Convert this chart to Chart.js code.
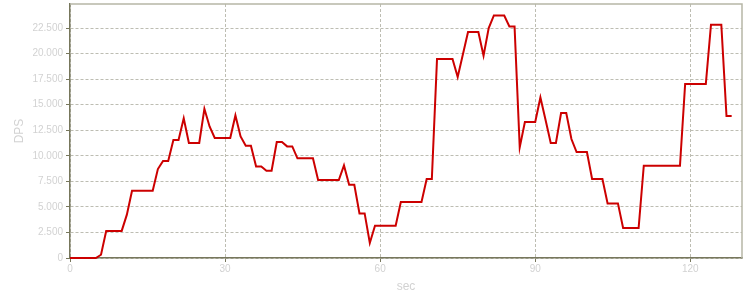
<!DOCTYPE html>
<html>
<head>
<meta charset="utf-8">
<script src="https://cdn.jsdelivr.net/npm/chart.js@4"></script>
<style>
  html, body { margin: 0; padding: 0; background: #ffffff; }
  #wrap { width: 750px; height: 300px; }
</style>
</head>
<body>
<div id="wrap"><canvas id="dps-chart" width="750" height="300"></canvas></div>
<script>
  // seconds since start
  const seconds = [
    0, 1, 2, 3, 4, 5, 6, 7, 8, 9, 10, 11, 12, 13, 14, 15, 16, 17, 18, 19,
    20, 21, 22, 23, 24, 25, 26, 27, 28, 29, 30, 31, 32, 33, 34, 35, 36, 37, 38, 39,
    40, 41, 42, 43, 44, 45, 46, 47, 48, 49, 50, 51, 52, 53, 54, 55, 56, 57, 58, 59,
    60, 61, 62, 63, 64, 65, 66, 67, 68, 69, 70, 71, 72, 73, 74, 75, 76, 77, 78, 79,
    80, 81, 82, 83, 84, 85, 86, 87, 88, 89, 90, 91, 92, 93, 94, 95, 96, 97, 98, 99,
    100, 101, 102, 103, 104, 105, 106, 107, 108, 109, 110, 111, 112, 113, 114, 115, 116, 117, 118, 119,
    120, 121, 122, 123, 124, 125, 126, 127, 128
  ];

  // damage per second
  const dps = [
    0, 0, 0, 0, 0, 0, 320, 2650, 2650, 2650, 2650, 4240, 6580, 6580, 6580, 6580, 6580, 8700, 9490, 9490,
    11540, 11540, 13660, 11250, 11250, 11250, 14600, 12870, 11740, 11740, 11740, 11740, 13950, 11900, 10990, 10990, 8960, 8960, 8540, 8540,
    11350, 11350, 10920, 10920, 9750, 9750, 9750, 9750, 7630, 7630, 7630, 7630, 7630, 9060, 7170, 7170, 4360, 4360, 1470, 3160,
    3160, 3160, 3160, 3160, 5480, 5480, 5480, 5480, 5480, 7730, 7730, 19470, 19470, 19470, 19470, 17710, 19900, 22110, 22110, 22110,
    19790, 22500, 23730, 23730, 23730, 22660, 22660, 10820, 13300, 13300, 13300, 15710, 13500, 11250, 11250, 14190, 14190, 11640, 10370, 10370,
    10370, 7730, 7730, 7730, 5340, 5340, 5340, 2930, 2930, 2930, 2930, 9030, 9030, 9030, 9030, 9030, 9030, 9030, 9030, 17020,
    17020, 17020, 17020, 17020, 22820, 22820, 22820, 13890, 13890
  ];

  const xTicks = [0, 30, 60, 90, 120];
  const yTicks = [0, 2500, 5000, 7500, 10000, 12500, 15000, 17500, 20000, 22500];
  const yMax = 24850;
  const xMax = 130;

  const axisColor = '#77775c';
  const frameColor = '#b6b6a6';
  const gridColor = '#bdbdb2';
  const textColor = '#d2d2d2';

  function formatThousands(v) {
    return String(v).replace(/\B(?=(\d{3})+(?!\d))/g, '.');
  }

  // light frame on top and right of the plot area
  const framePlugin = {
    id: 'frame',
    beforeDatasetsDraw(chart) {
      const a = chart.chartArea;
      const ctx = chart.ctx;
      ctx.save();
      ctx.strokeStyle = frameColor;
      ctx.lineWidth = 1.5;
      ctx.beginPath();
      ctx.moveTo(a.left, a.top);
      ctx.lineTo(a.right, a.top);
      ctx.lineTo(a.right, a.bottom);
      ctx.stroke();
      ctx.restore();
    }
  };

  new Chart(document.getElementById('dps-chart').getContext('2d'), {
    type: 'line',
    data: {
      labels: seconds,
      datasets: [{
        label: 'DPS',
        data: dps,
        borderColor: '#cc0000',
        borderWidth: 2,
        pointRadius: 0,
        tension: 0,
        fill: false,
        clip: false
      }]
    },
    options: {
      responsive: false,
      animation: false,
      layout: { padding: { top: 4, right: 8, left: 0, bottom: 0 } },
      plugins: {
        legend: { display: false },
        tooltip: { enabled: false }
      },
      scales: {
        x: {
          type: 'linear',
          min: 0,
          max: xMax,
          afterFit: (scale) => {
            scale.height = 42;
            scale.paddingLeft = 0;
            scale.paddingRight = 0;
          },
          afterBuildTicks: (scale) => { scale.ticks = xTicks.map(v => ({ value: v })); },
          ticks: {
            color: textColor,
            font: { family: 'Liberation Sans, Arial, sans-serif', size: 10 },
            padding: 1,
            maxRotation: 0
          },
          grid: {
            color: gridColor,
            tickColor: axisColor,
            tickLength: 4,
            lineWidth: 1
          },
          border: { color: axisColor, width: 1.5, dash: [3, 2] },
          title: {
            display: true,
            text: 'sec',
            color: textColor,
            font: { family: 'Liberation Sans, Arial, sans-serif', size: 12 },
            padding: { top: 0, bottom: 6 }
          }
        },
        y: {
          min: 0,
          max: yMax,
          afterFit: (scale) => {
            scale.width = 70;
            scale.paddingTop = 0;
            scale.paddingBottom = 0;
          },
          afterBuildTicks: (scale) => { scale.ticks = yTicks.map(v => ({ value: v })); },
          ticks: {
            color: textColor,
            font: { family: 'Liberation Sans, Arial, sans-serif', size: 10 },
            padding: 3,
            callback: (v) => formatThousands(v)
          },
          grid: {
            color: gridColor,
            tickColor: axisColor,
            tickLength: 4,
            lineWidth: 1
          },
          border: { color: axisColor, width: 1.5, dash: [3, 2] },
          title: {
            display: true,
            text: 'DPS',
            color: textColor,
            font: { family: 'Liberation Sans, Arial, sans-serif', size: 12 },
            padding: { top: 12, bottom: 0 }
          }
        }
      }
    },
    plugins: [framePlugin]
  });
</script>
</body>
</html>
